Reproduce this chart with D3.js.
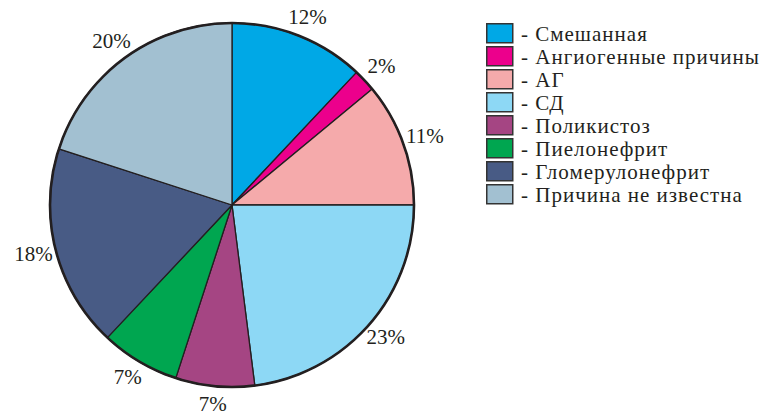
<!DOCTYPE html>
<html><head><meta charset="utf-8">
<script src="https://cdn.jsdelivr.net/npm/d3@7"></script>
</head><body style="margin:0;background:#fff">
<svg id="chart" width="769" height="412" style="display:block"></svg>
<script>
const categories = ["Смешанная","Ангиогенные причины","АГ","СД","Поликистоз","Пиелонефрит","Гломерулонефрит","Причина не известна"];
const values = [12, 2, 11, 23, 7, 7, 18, 20];
const colors = ["#00a8e6","#ec008c","#f5aaab","#8dd8f5","#a54583","#00a650","#485b85","#a2c0d1"];

const svg = d3.select("#chart");
const cx = 232, cy = 205, r = 182, labelR = 201;
const font = '"Liberation Serif", Tinos, "Times New Roman"';

const pie = d3.pie().sort(null).value(d => d)(values);
const arc = d3.arc().innerRadius(0).outerRadius(r);
const labelArc = d3.arc().innerRadius(labelR).outerRadius(labelR);

const g = svg.append("g").attr("transform", `translate(${cx},${cy})`);
g.selectAll("path.slice").data(pie).join("path")
  .attr("class","slice")
  .attr("d", arc)
  .attr("fill", (d,i) => colors[i])
  .attr("stroke", "#231f20").attr("stroke-width", 1.3).attr("stroke-linejoin","round");
g.append("circle").attr("r", r).attr("fill","none").attr("stroke","#231f20").attr("stroke-width",2.6);

svg.selectAll("text.lbl").data(pie).join("text")
  .attr("class","lbl")
  .attr("x", d => cx + labelArc.centroid(d)[0] * 1.02)
  .attr("y", d => cy + labelArc.centroid(d)[1] + 6)
  .attr("text-anchor","middle")
  .style("font-family", font, "important").style("font-size","21px").attr("fill","#231f20")
  .text(d => d.value + "%");

svg.selectAll("rect.key").data(categories).join("rect")
  .attr("class","key")
  .attr("x",486.75).attr("y",(d,i)=>23.75+i*23).attr("width",26).attr("height",19)
  .attr("fill",(d,i)=>colors[i]).attr("stroke","#333").attr("stroke-width",1.5);
svg.selectAll("text.key").data(categories).join("text")
  .attr("class","key")
  .attr("x",521).attr("y",(d,i)=>41+i*23)
  .style("font-family", font, "important").style("font-size","21px").style("letter-spacing","1px").attr("fill","#231f20")
  .text(d => "- " + d);
</script>
</body></html>
